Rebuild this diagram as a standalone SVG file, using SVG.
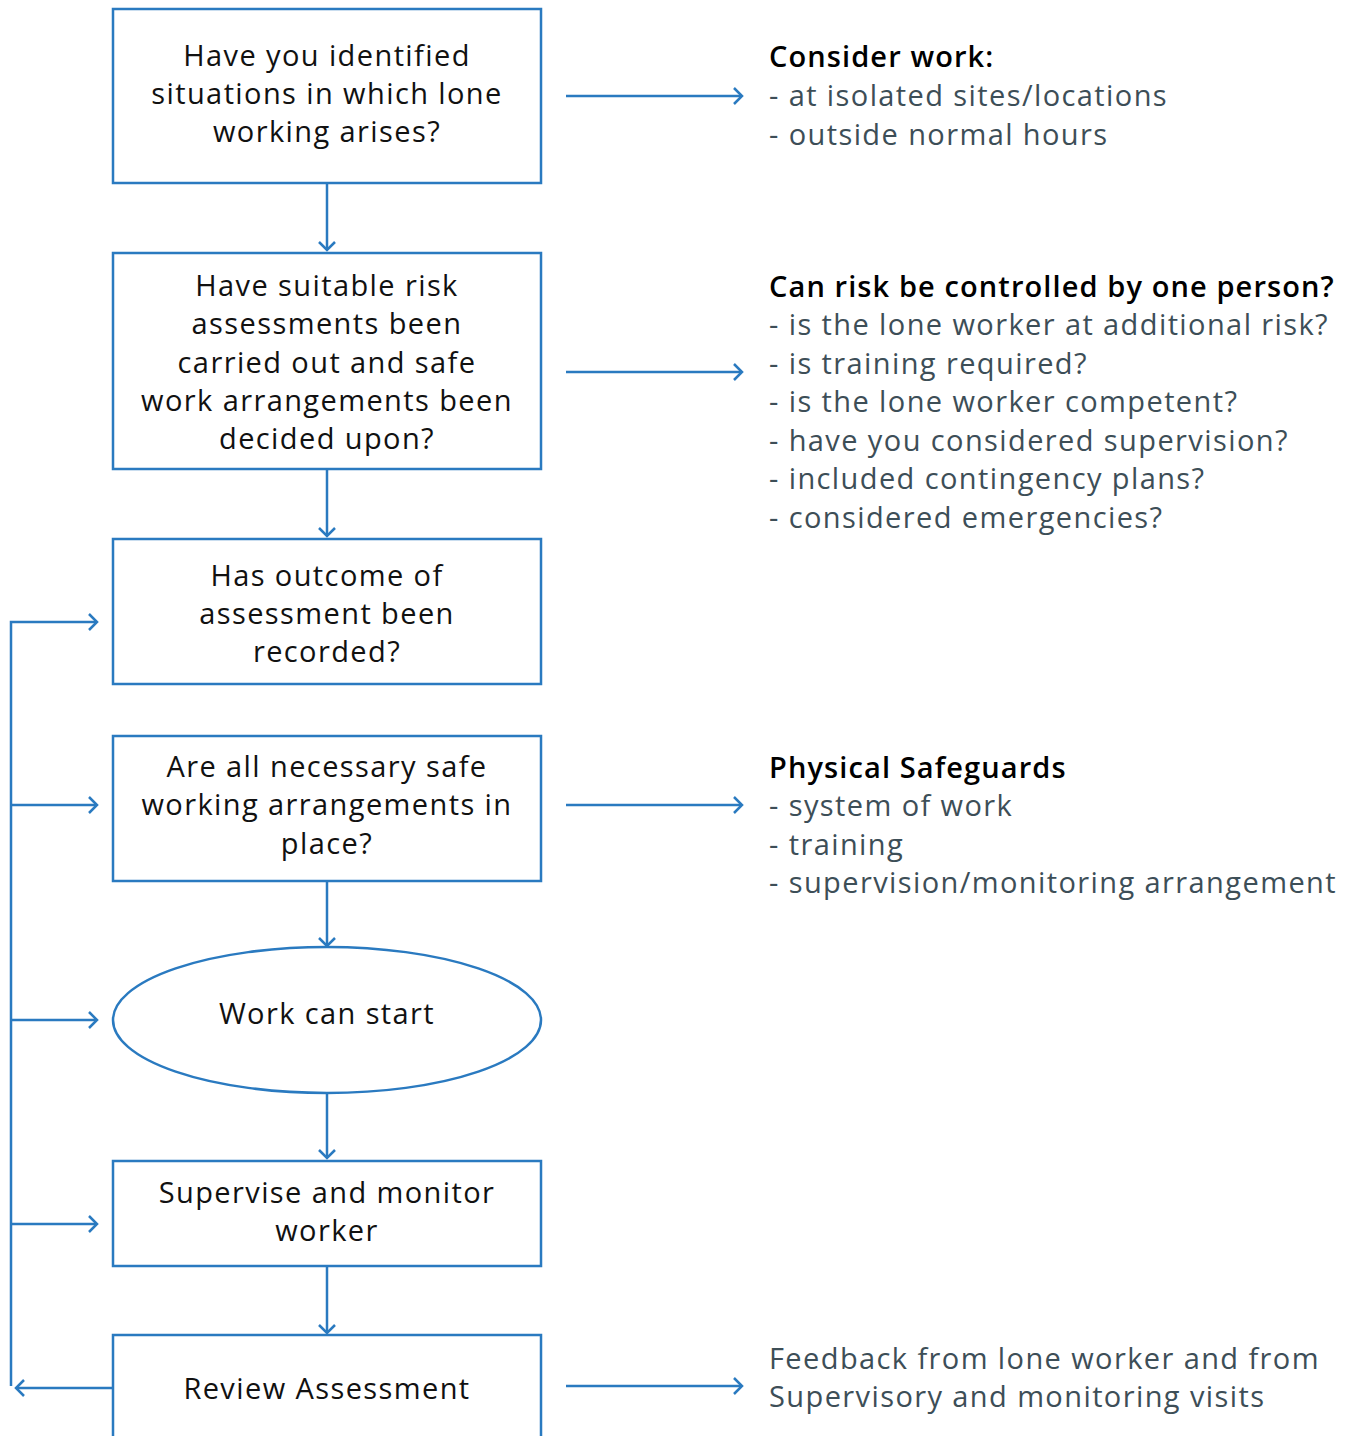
<svg xmlns="http://www.w3.org/2000/svg" width="1354" height="1436" viewBox="0 0 1354 1436">
<defs>
<marker id="ah" viewBox="0 0 20 20" refX="17" refY="10" markerWidth="20" markerHeight="20" markerUnits="userSpaceOnUse" orient="auto">
<path d="M9,2 L17,10 L9,18" fill="none" stroke="#2a7ac0" stroke-width="2.5"/>
</marker>
<style>
.box{fill:#fff;stroke:#2a7ac0;stroke-width:2.5}
.con{fill:none;stroke:#2a7ac0;stroke-width:2.5}
.t{font-family:"Open Sans","Liberation Sans",sans-serif;font-size:29px;letter-spacing:1.4px;fill:#111;text-anchor:middle}
.h{font-family:"Open Sans","Liberation Sans",sans-serif;font-size:29px;letter-spacing:1.1px;font-weight:600;fill:#000}
.g{font-family:"Open Sans","Liberation Sans",sans-serif;font-size:29px;letter-spacing:1.4px;fill:#3d4e57}
</style>
</defs>
<rect width="1354" height="1436" fill="#fff"/>
<g id="connectors">
<path class="con" d="M327,183 V250" marker-end="url(#ah)"/>
<path class="con" d="M327,469 V536" marker-end="url(#ah)"/>
<path class="con" d="M327,881 V946" marker-end="url(#ah)"/>
<path class="con" d="M327,1093 V1158" marker-end="url(#ah)"/>
<path class="con" d="M327,1266 V1333" marker-end="url(#ah)"/>
<path class="con" d="M566,96 H742" marker-end="url(#ah)"/>
<path class="con" d="M566,372 H742" marker-end="url(#ah)"/>
<path class="con" d="M566,805 H742" marker-end="url(#ah)"/>
<path class="con" d="M566,1386 H742" marker-end="url(#ah)"/>
<path class="con" d="M113,1388 H16" marker-end="url(#ah)"/>
<path class="con" d="M11,1386 V622 H97" marker-end="url(#ah)"/>
<path class="con" d="M11,805 H97" marker-end="url(#ah)"/>
<path class="con" d="M11,1020 H97" marker-end="url(#ah)"/>
<path class="con" d="M11,1224 H97" marker-end="url(#ah)"/>
</g>
<g id="n1">
<rect class="box" x="113" y="9" width="428" height="174"/>
<text class="t" x="327" y="66">Have you identified</text>
<text class="t" x="327" y="104">situations in which lone</text>
<text class="t" x="327" y="142">working arises?</text>
</g>
<g id="n2">
<rect class="box" x="113" y="253" width="428" height="216"/>
<text class="t" x="327" y="296">Have suitable risk</text>
<text class="t" x="327" y="334">assessments been</text>
<text class="t" x="327" y="373">carried out and safe</text>
<text class="t" x="327" y="411">work arrangements been</text>
<text class="t" x="327" y="449">decided upon?</text>
</g>
<g id="n3">
<rect class="box" x="113" y="539" width="428" height="145"/>
<text class="t" x="327" y="586">Has outcome of</text>
<text class="t" x="327" y="624">assessment been</text>
<text class="t" x="327" y="662">recorded?</text>
</g>
<g id="n4">
<rect class="box" x="113" y="736" width="428" height="145"/>
<text class="t" x="327" y="777">Are all necessary safe</text>
<text class="t" x="327" y="815">working arrangements in</text>
<text class="t" x="327" y="854">place?</text>
</g>
<g id="n5">
<ellipse class="box" cx="327" cy="1020" rx="214" ry="73"/>
<text class="t" x="327" y="1024">Work can start</text>
</g>
<g id="n6">
<rect class="box" x="113" y="1161" width="428" height="105"/>
<text class="t" x="327" y="1203">Supervise and monitor</text>
<text class="t" x="327" y="1241">worker</text>
</g>
<g id="n7">
<rect class="box" x="113" y="1335" width="428" height="120"/>
<text class="t" x="327" y="1399">Review Assessment</text>
</g>
<g id="note1">
<text class="h" x="769" y="67">Consider work:</text>
<text class="g" x="769" y="106">- at isolated sites/locations</text>
<text class="g" x="769" y="145">- outside normal hours</text>
</g>
<g id="note2">
<text class="h" x="769" y="297">Can risk be controlled by one person?</text>
<text class="g" x="769" y="335">- is the lone worker at additional risk?</text>
<text class="g" x="769" y="374">- is training required?</text>
<text class="g" x="769" y="412">- is the lone worker competent?</text>
<text class="g" x="769" y="451">- have you considered supervision?</text>
<text class="g" x="769" y="489">- included contingency plans?</text>
<text class="g" x="769" y="528">- considered emergencies?</text>
</g>
<g id="note3">
<text class="h" x="769" y="778">Physical Safeguards</text>
<text class="g" x="769" y="816">- system of work</text>
<text class="g" x="769" y="855">- training</text>
<text class="g" x="769" y="893">- supervision/monitoring arrangement</text>
</g>
<g id="note4">
<text class="g" x="769" y="1369">Feedback from lone worker and from</text>
<text class="g" x="769" y="1407">Supervisory and monitoring visits</text>
</g>
</svg>
